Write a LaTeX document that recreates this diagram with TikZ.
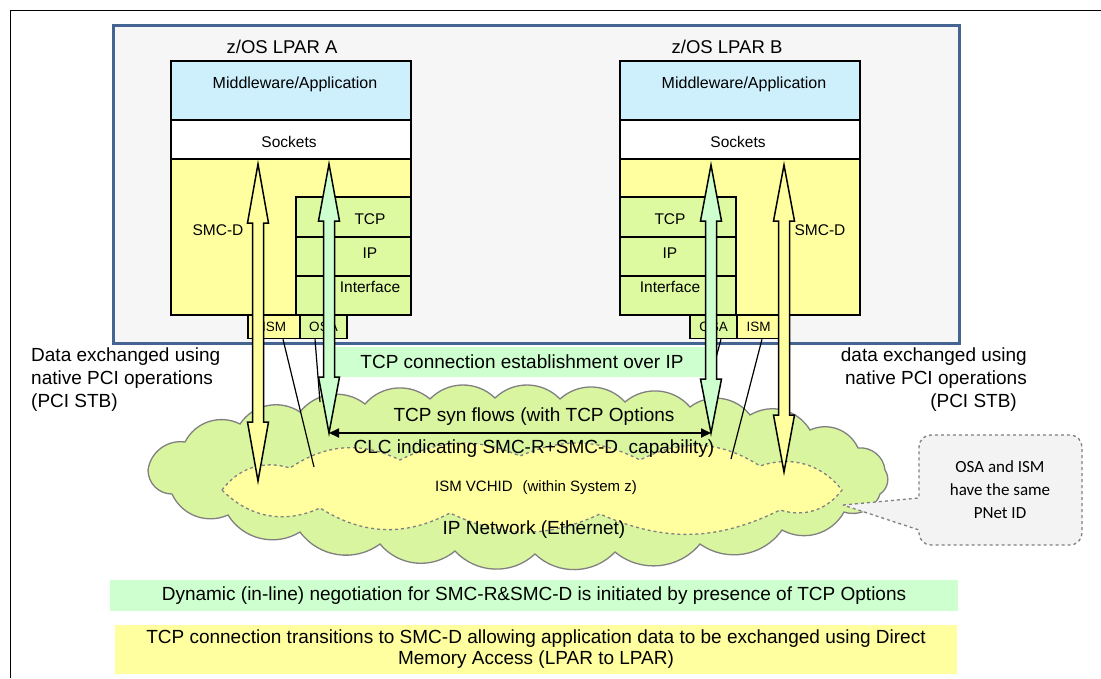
\documentclass[tikz,border=0pt]{standalone}
\usepackage{fontspec}
\setmainfont{Liberation Sans}
\newfontfamily\calibri{Carlito}
\usetikzlibrary{arrows.meta,positioning}
\definecolor{lparfill}{RGB}{246,246,246}
\definecolor{lparline}{RGB}{68,100,146}
\definecolor{mwblue}{RGB}{206,240,252}
\definecolor{smcyellow}{RGB}{255,255,160}
\definecolor{tcpgreen}{RGB}{221,250,160}
\definecolor{mint}{RGB}{206,255,206}
\definecolor{cloudgreen}{RGB}{217,245,160}
\definecolor{cloudline}{RGB}{128,128,128}
\definecolor{bubblefill}{RGB}{243,243,243}

% block double arrow: x, top tip, top base, bottom base, bottom tip, fill
\newcommand{\blockarrow}[6]{%
  \draw[line width=1.5pt, fill=#6, line join=miter] (#1,#2) -- (#1+10.5,#3) -- (#1+5.5,#3)
    -- (#1+5.5,#4) -- (#1+10.5,#4) -- (#1,#5) -- (#1-10.5,#4) -- (#1-5.5,#4)
    -- (#1-5.5,#3) -- (#1-10.5,#3) -- cycle;}

\tikzset{
  layer/.style={line width=2.5pt},
  stacktxt/.style={font=\fontsize{15.5}{18}\selectfont},
  titletxt/.style={font=\fontsize{18.5}{21}\selectfont},
  bigtxt/.style={font=\fontsize{19}{23}\selectfont},
  adapter/.style={draw, line width=1.5pt, minimum height=23pt, inner sep=0pt,
    font=\fontsize{13.5}{16}\selectfont},
  wire/.style={line width=1.2pt},
  band/.style={inner sep=0pt, font=\fontsize{19}{21}\selectfont},
  puff/.style={bend left=45}
}

\begin{document}
\begin{tikzpicture}[x=1pt, y=-1pt]
  \useasboundingbox (0,0) rectangle (1101,678);
  % Frame
  \draw[line width=1pt] (1101,10) -- (10,10) -- (10,678);

  % LPARs
  \draw[line width=3pt, draw=lparline, fill=lparfill] (113,25) rectangle (959,343);
  \node[titletxt] (titleA) at (282,47) {z/OS LPAR A};
  \node[titletxt] (titleB) at (727,47) {z/OS LPAR B};

  % Stack A
  \draw[layer, fill=smcyellow] (171,159) rectangle (411,315);
  \draw[layer, fill=mwblue] (171,61) rectangle (411,120);
  \draw[layer, fill=white] (171,120) rectangle (411,159);
  \draw[layer, fill=tcpgreen] (296,197) rectangle (411,237);
  \draw[layer, fill=tcpgreen] (296,237) rectangle (411,276);
  \draw[layer, fill=tcpgreen] (296,276) rectangle (411,315);
  \node[stacktxt, font=\fontsize{16}{18}\selectfont] (mwA) at (295,84) {Middleware/Application};
  \node[stacktxt] (sockA) at (289,142) {Sockets};
  \node[stacktxt] (smcA) at (218,230) {SMC-D};
  \node[stacktxt] (tcpA) at (370,219) {TCP};
  \node[stacktxt] (ipA) at (370,253) {IP};
  \node[stacktxt] (ifA) at (370,287) {Interface};
  \node[adapter, fill=smcyellow, minimum width=52pt] (ismA) at (274,327) {ISM};
  \node[adapter, fill=tcpgreen, minimum width=47pt] (osaA) at (323.5,327) {OSA};

  % Stack B
  \draw[layer, fill=smcyellow] (620,159) rectangle (860,315);
  \draw[layer, fill=mwblue] (620,61) rectangle (860,120);
  \draw[layer, fill=white] (620,120) rectangle (860,159);
  \draw[layer, fill=tcpgreen] (620,197) rectangle (736,237);
  \draw[layer, fill=tcpgreen] (620,237) rectangle (736,276);
  \draw[layer, fill=tcpgreen] (620,276) rectangle (736,315);
  \node[stacktxt, font=\fontsize{16}{18}\selectfont] (mwB) at (744,84) {Middleware/Application};
  \node[stacktxt] (sockB) at (738,142) {Sockets};
  \node[stacktxt] (smcB) at (820,230) {SMC-D};
  \node[stacktxt] (tcpB) at (670,219) {TCP};
  \node[stacktxt] (ipB) at (670,253) {IP};
  \node[stacktxt] (ifB) at (670,287) {Interface};
  \node[adapter, fill=tcpgreen, minimum width=47pt] (osaB) at (713.5,327) {OSA};
  \node[adapter, fill=smcyellow, minimum width=43pt] (ismB) at (758.5,327) {ISM};

  % Side notes
  \node[bigtxt, align=left, anchor=west, inner sep=0pt] (pciA) at (31,380)
    {Data exchanged using\\native PCI operations\\(PCI STB)};
  \node[bigtxt, align=right, anchor=east, inner sep=0pt] (pciB) at (1027,380)
    {data exchanged using\\native PCI operations\\(PCI STB)\hspace*{10pt}};

  % Connection setup band
  \fill[mint] (329,347) rectangle (711,377);
  \node[bigtxt] (setup) at (522,362) {TCP connection establishment over IP};

  % Network cloud
  \draw[line width=1.3pt, draw=cloudline, fill=cloudgreen]
    (148,470) to[puff] (185,442) to[puff] (240,424) to[puff] (300,412) to[puff] (365,404)
    to[puff] (430,399) to[puff] (495,398) to[puff] (560,399) to[puff] (625,402)
    to[puff] (690,407) to[puff] (750,415) to[puff] (810,430) to[puff] (858,448)
    to[puff] (885,470) to[puff] (880,494) to[puff] (844,512) to[puff] (782,530)
    to[puff] (700,544) to[puff] (615,552) to[puff] (535,554) to[puff] (455,551)
    to[puff] (380,544) to[puff] (300,532) to[puff] (228,515) to[puff] (172,494)
    to[puff] cycle;
  % ISM VCHID region
  \draw[line width=1.3pt, draw=cloudline, dashed, fill=smcyellow]
    (222,490) to[bend left=35] (290,468) to[bend left=30] (400,460)
    to[bend left=25] (520,456) to[bend left=25] (640,460) to[bend left=30] (760,466)
    to[bend left=35] (842,490) to[bend left=35] (780,510) to[bend left=25] (600,514)
    to[bend left=25] (450,513) to[bend left=30] (320,508) to[bend left=35] cycle;

  % Adapter links
  \coordinate (netA) at (320,402);
  \coordinate (vchA) at (314,467);
  \coordinate (netB) at (706,395);
  \coordinate (vchB) at (731,459);
  \draw[wire] ([xshift=9pt]ismA.south) -- (vchA);
  \draw[wire] ([xshift=-8.5pt]osaA.south) -- (netA);
  \draw[wire] ([xshift=7.5pt]osaB.south) -- (netB);
  \draw[wire] ([xshift=3.5pt]ismB.south) -- (vchB);

  % Data paths
  \blockarrow{258}{164}{223}{422}{481}{smcyellow}
  \blockarrow{329}{164}{221}{377}{433}{mint}
  \blockarrow{711}{165}{221}{379}{433}{mint}
  \blockarrow{784}{165}{221}{415}{472}{smcyellow}

  \coordinate (synA) at (329,433);
  \coordinate (synB) at (711,433);
  \draw[line width=1.8pt, {Triangle[length=10pt,width=9pt]}-{Triangle[length=10pt,width=9pt]}]
    (synA) -- (synB);

  \node[bigtxt] (syn) at (534,417) {TCP syn flows (with TCP Options};
  \node[bigtxt] (clc) at (534,449) {CLC indicating SMC-R+SMC-D\ \ capability)};
  \node[font=\fontsize{15}{17}\selectfont] (vchidtxt) at (536,488) {ISM VCHID\hspace{10pt}(within System z)};
  \node[bigtxt] (iptxt) at (534,530) {IP Network (Ethernet)};

  % PNet note
  \draw[dashed, line width=1.3pt, draw=cloudline, fill=bubblefill]
    (843,505) -- (919,498) [rounded corners=12pt] -- (919,435) -- (1082,435) -- (1082,545)
    -- (919,545) [sharp corners] -- (919,530) -- cycle;
  \node[align=center, font=\calibri\fontsize{17}{23}\selectfont] (pnet) at (1000,490)
    {OSA and ISM\\have the same\\PNet ID};

  % Summary bands
  \node[band, fill=mint, minimum width=848pt, minimum height=31pt] (negotiate) at (534,595.5)
    {Dynamic (in-line) negotiation for SMC-R\&SMC-D is initiated by presence of TCP Options};
  \node[band, fill=smcyellow, minimum width=842pt, minimum height=49pt, align=center]
    (transition) at (536,649.5)
    {TCP connection transitions to SMC-D allowing application data to be exchanged using Direct\\Memory Access (LPAR to LPAR)};
\end{tikzpicture}
\end{document}
